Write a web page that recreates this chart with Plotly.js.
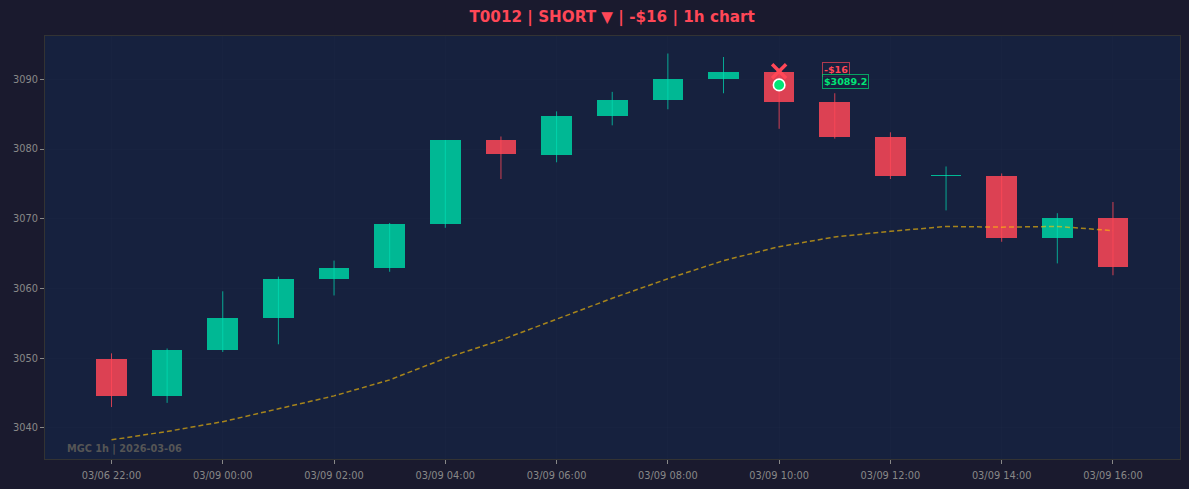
<!DOCTYPE html>
<html><head><meta charset="utf-8">
<script src="https://cdn.plot.ly/plotly-3.0.1.min.js"></script>
<style>html,body{margin:0;padding:0;background:#1a1a2e}#c{width:1189px;height:489px}</style>
</head><body><div id="c"></div>
<script>
const idx = [0,1,2,3,4,5,6,7,8,9,10,11,12,13,14,15,16,17,18];
const open_ = [3049.9,3044.6,3051.2,3055.8,3061.3,3063.0,3069.2,3081.3,3079.2,3084.7,3087.0,3090.0,3091.0,3086.7,3081.7,3076.15,3076.2,3067.3,3070.1];
const close_= [3044.6,3051.2,3055.8,3061.3,3063.0,3069.2,3081.3,3079.3,3084.7,3087.0,3090.0,3091.0,3086.7,3081.7,3076.1,3076.3,3067.3,3070.1,3063.1];
const high_ = [3050.7,3051.4,3059.6,3061.7,3064.0,3069.4,3081.3,3081.8,3085.4,3088.2,3093.7,3093.2,3091.0,3088.0,3082.4,3077.5,3076.5,3070.8,3072.4];
const low_  = [3043.0,3043.6,3050.9,3052.0,3059.0,3062.4,3068.7,3075.7,3078.1,3083.4,3085.7,3088.0,3082.9,3081.5,3075.7,3071.2,3066.7,3063.6,3061.9];
const ma_   = [3038.3,3039.5,3040.9,3042.8,3044.6,3046.9,3050.0,3052.6,3055.6,3058.6,3061.4,3064.0,3066.0,3067.4,3068.2,3068.9,3068.8,3068.9,3068.3];
const tickVals = [0,2,4,6,8,10,12,14,16,18];
const tickText = ["03/06 22:00","03/09 00:00","03/09 02:00","03/09 04:00","03/09 06:00","03/09 08:00","03/09 10:00","03/09 12:00","03/09 14:00","03/09 16:00"];
const exitIdx = 12, exitPrice = 3089.2, entryPrice = 3091.15;
const title = "T0012 | SHORT ▼ | -$16 | 1h chart";
const pnlLabel = "-$16", priceLabel = "$3089.2", stamp = "MGC 1h | 2026-03-06";

const GREEN="#00b894", RED="#dc4153", FONT="DejaVu Sans, sans-serif";
const up = idx.filter(i=>close_[i]>=open_[i]);
const dn = idx.filter(i=>close_[i]<open_[i]);
function wick(list,color){
  const x=[],y=[];
  list.forEach(i=>{x.push(idx[i],idx[i],null);y.push(low_[i],high_[i],null);});
  return {type:"scatter",mode:"lines",x,y,line:{color,width:1},hoverinfo:"skip",showlegend:false};
}
function body(list,color){
  return {type:"bar",x:list.map(i=>idx[i]),
    y:list.map(i=>Math.abs(close_[i]-open_[i])),
    base:list.map(i=>Math.min(open_[i],close_[i])),
    width:0.55,marker:{color,line:{width:0}},showlegend:false,hoverinfo:"skip"};
}
const data=[
  body(up,GREEN),body(dn,RED),
  wick(up,"rgba(0,220,180,0.72)"),wick(dn,"rgba(255,71,87,0.8)"),
  {type:"scatter",mode:"lines",x:idx,y:ma_,line:{color:"rgba(255,193,7,0.62)",width:1.5,dash:"5px,3px"},hoverinfo:"skip",showlegend:false},
  {type:"scatter",mode:"markers",x:[exitIdx],y:[entryPrice],marker:{symbol:"x-thin",size:14,line:{color:"#ff4757",width:3.5},color:"#ff4757"},hoverinfo:"skip",showlegend:false},
  {type:"scatter",mode:"markers",x:[exitIdx],y:[exitPrice],marker:{symbol:"circle",size:11.5,color:"#00e676",line:{color:"#ffffff",width:1.6}},hoverinfo:"skip",showlegend:false}
];
const layout={
  width:1189,height:489,
  paper_bgcolor:"#1a1a2e",plot_bgcolor:"#16213e",
  margin:{l:44.5,r:9,t:35.5,b:30},
  bargap:0,barmode:"overlay",showlegend:false,
  title:{text:title,font:{family:FONT,size:15.2,color:"#ff4757",weight:"bold"},x:0.5148,xanchor:"center",y:0.965,yanchor:"middle"},
  xaxis:{range:[-1.195,19.205],tickmode:"array",tickvals:tickVals,ticktext:tickText,ticks:"outside",ticklen:4,tickwidth:1,tickcolor:"#888888",ticklabelstandoff:3,
    tickfont:{family:FONT,size:9.8,color:"#888888"},showgrid:true,gridcolor:"rgba(255,255,255,0.012)",zeroline:false,
    showline:true,linecolor:"#333333",linewidth:1,mirror:true},
  yaxis:{range:[3035.55,3096.21],tickmode:"array",tickvals:[3040,3050,3060,3070,3080,3090],ticks:"outside",ticklen:4,tickwidth:1,tickcolor:"#888888",
    tickfont:{family:FONT,size:9.8,color:"#888888"},showgrid:true,gridcolor:"rgba(255,255,255,0.012)",zeroline:false,
    showline:true,linecolor:"#333333",linewidth:1,mirror:true},
  annotations:[
    {xref:"x",yref:"y",x:12.775,y:3091.4,xanchor:"left",yanchor:"middle",text:pnlLabel,showarrow:false,
     font:{family:FONT,size:9.5,color:"#ff4757",weight:"bold"},bgcolor:"rgba(22,33,62,0.85)",bordercolor:"rgba(255,71,87,0.65)",borderwidth:1,borderpad:1},
    {xref:"x",yref:"y",x:12.765,y:3089.75,xanchor:"left",yanchor:"middle",text:priceLabel,showarrow:false,
     font:{family:FONT,size:9.5,color:"#00e676",weight:"bold"},bgcolor:"rgba(22,33,62,0.85)",bordercolor:"rgba(0,230,118,0.65)",borderwidth:1,borderpad:1},
    {xref:"paper",yref:"paper",x:0.0178,y:0.023,xanchor:"left",yanchor:"middle",text:stamp,showarrow:false,
     font:{family:FONT,size:9.75,color:"#555555",weight:"bold"}}
  ]
};
Plotly.newPlot("c",data,layout,{displayModeBar:false,staticPlot:true});
</script></body></html>
